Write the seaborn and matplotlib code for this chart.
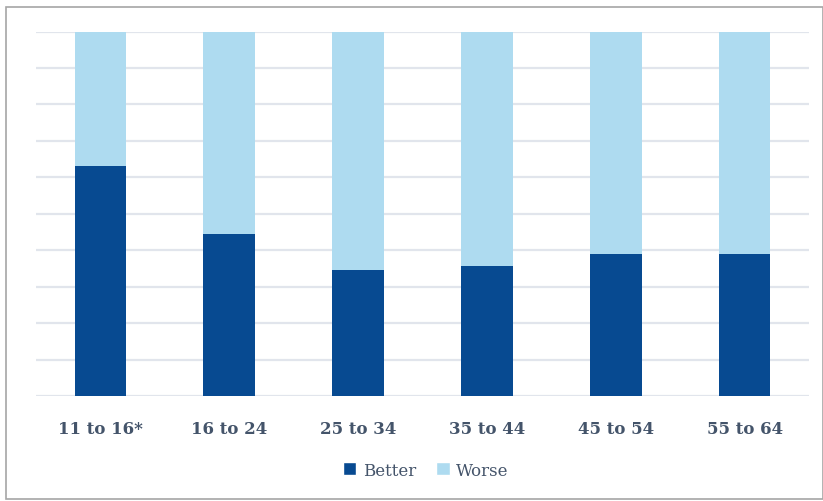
import matplotlib
matplotlib.use("Agg")
import matplotlib.pyplot as plt
from matplotlib.patches import Rectangle, Patch
import numpy as np
import pandas as pd
import seaborn as sns

# Share of respondents by age band (percent)
age_groups = ["11 to 16*", "16 to 24", "25 to 34", "35 to 44", "45 to 54", "55 to 64"]
better = [63.0, 44.5, 34.7, 35.6, 39.0, 39.0]
worse = [37.0, 55.5, 65.3, 64.4, 61.0, 61.0]

df = pd.DataFrame({"age": age_groups, "Better": better, "Worse": worse})
df["Total"] = df["Better"] + df["Worse"]

dark_blue = "#074A91"
light_blue = "#AEDBF0"
text_col = "#44546A"
grid_col = "#E1E5EC"

sns.set_theme(style="white")
plt.rcParams["font.family"] = ["DejaVu Serif"]

fig = plt.figure(figsize=(8.23, 5.02), dpi=100)
ax = fig.add_axes([36 / 823, 1 - 397 / 502, (809 - 36) / 823, (397 - 32.5) / 502])

# Stacked bars: full height in light blue, "Better" share overlaid from the baseline
sns.barplot(data=df, x="age", y="Total", color=light_blue, width=0.4,
            saturation=1, ax=ax, zorder=2, edgecolor="none")
sns.barplot(data=df, x="age", y="Better", color=dark_blue, width=0.4,
            saturation=1, ax=ax, zorder=3, edgecolor="none")

ax.set_ylim(0, 100)
ax.set_xlim(-0.5, len(age_groups) - 0.5)
ax.set_yticks(np.arange(0, 101, 10))
ax.set_yticklabels([])
ax.yaxis.grid(True, color=grid_col, linewidth=1.6, zorder=0)
ax.set_axisbelow(True)
ax.tick_params(axis="both", length=0)
ax.tick_params(axis="x", pad=17, labelsize=12, labelcolor=text_col)
for lbl in ax.get_xticklabels():
    lbl.set_fontweight("bold")
ax.set_xlabel("")
ax.set_ylabel("")
for s in ax.spines.values():
    s.set_visible(False)

handles = [Patch(facecolor=dark_blue, label="Better"),
           Patch(facecolor=light_blue, label="Worse")]
fig.legend(handles=handles, loc="center", bbox_to_anchor=(426 / 823, 1 - 471 / 502),
           ncol=2, frameon=False, fontsize=12, labelcolor=text_col,
           handlelength=0.8, handleheight=0.8, handletextpad=0.4, columnspacing=1.2)

# Thin frame around the whole chart
fig.patches.append(Rectangle((6 / 823, 2 / 502), 1 - 6 / 823, 1 - 10 / 502,
                             transform=fig.transFigure, fill=False,
                             edgecolor="#A6A6A6", linewidth=1.2))

fig.savefig("out.png", dpi=100, facecolor="white")
